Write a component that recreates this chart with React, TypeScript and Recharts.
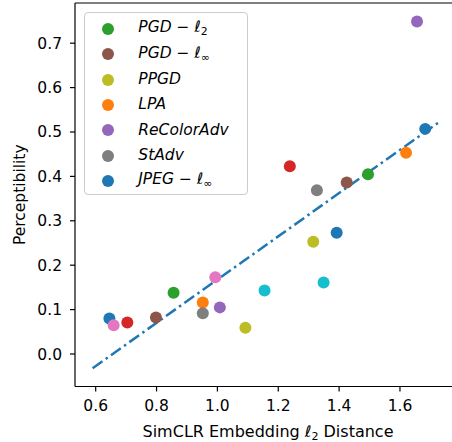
import { ScatterChart, Scatter, XAxis, YAxis, ReferenceLine, Legend } from 'recharts';

const FONT = 'DejaVu Sans';

const xTicks = [0.6, 0.8, 1.0, 1.2, 1.4, 1.6];
const yTicks = [0, 0.1, 0.2, 0.3, 0.4, 0.5, 0.6, 0.7];

// one array per attack / colour
const jpegLinf = [{ x: 0.645, y: 0.08 }, { x: 1.683, y: 0.507 }];
const lpa = [{ x: 0.952, y: 0.116 }, { x: 1.62, y: 0.453 }];
const pgdL2 = [{ x: 0.856, y: 0.138 }, { x: 1.495, y: 0.405 }];
const redPts = [{ x: 0.704, y: 0.071 }, { x: 1.238, y: 0.423 }];
const reColorAdv = [{ x: 1.008, y: 0.105 }, { x: 1.656, y: 0.749 }];
const pgdLinf = [{ x: 0.798, y: 0.082 }, { x: 1.425, y: 0.386 }];
const pinkPts = [{ x: 0.659, y: 0.065 }, { x: 0.993, y: 0.173 }];
const stAdv = [{ x: 0.952, y: 0.092 }, { x: 1.327, y: 0.369 }];
const ppgd = [{ x: 1.092, y: 0.059 }, { x: 1.315, y: 0.253 }];
const cyanPts = [{ x: 1.155, y: 0.143 }, { x: 1.349, y: 0.161 }];
const bluePts = [{ x: 1.392, y: 0.273 }];

const fitLine = [{ x: 0.59, y: -0.032 }, { x: 1.734, y: 0.525 }];

const series = [
  { name: 'jpeg', data: jpegLinf, color: '#1f77b4' },
  { name: 'lpa', data: lpa, color: '#ff7f0e' },
  { name: 'pgd2', data: pgdL2, color: '#2ca02c' },
  { name: 'red', data: redPts, color: '#d62728' },
  { name: 'recolor', data: reColorAdv, color: '#9467bd' },
  { name: 'pgdinf', data: pgdLinf, color: '#8c564b' },
  { name: 'pink', data: pinkPts, color: '#e377c2' },
  { name: 'stadv', data: stAdv, color: '#7f7f7f' },
  { name: 'ppgd', data: ppgd, color: '#bcbd22' },
  { name: 'cyan', data: cyanPts, color: '#17becf' },
  { name: 'blue', data: bluePts, color: '#1f77b4' },
];

const sub = (s: string) => (
  <span style={{ fontStyle: 'normal', fontSize: '70%', verticalAlign: '-0.25em' }}>{s}</span>
);

const legendItems = [
  { color: '#2ca02c', label: <><i>PGD</i><span style={{ fontStyle: 'normal' }}> − </span><i>ℓ</i>{sub('2')}</> },
  { color: '#8c564b', label: <><i>PGD</i><span style={{ fontStyle: 'normal' }}> − </span><i>ℓ</i>{sub('∞')}</> },
  { color: '#bcbd22', label: <i>PPGD</i> },
  { color: '#ff7f0e', label: <i>LPA</i> },
  { color: '#9467bd', label: <i>ReColorAdv</i> },
  { color: '#7f7f7f', label: <i>StAdv</i> },
  { color: '#1f77b4', label: <><i>JPEG</i><span style={{ fontStyle: 'normal' }}> − </span><i>ℓ</i>{sub('∞')}</> },
];

const renderLegend = () => (
  <div
    style={{
      boxSizing: 'border-box',
      width: 164,
      height: 183,
      border: '1px solid #cccccc',
      borderRadius: 4,
      background: 'rgba(255,255,255,0.8)',
      paddingTop: 3.5,
      fontFamily: FONT,
      color: '#000',
    }}
  >
    {legendItems.map((it, i) => (
      <div key={i} style={{ height: 25.3, display: 'flex', alignItems: 'center' }}>
        <svg width={12} height={12} style={{ marginLeft: 17.3, flex: 'none' }}>
          <circle cx={6} cy={6} r={6} fill={it.color} />
        </svg>
        <span style={{ marginLeft: 24, fontSize: 15.5, lineHeight: 1, whiteSpace: 'nowrap' }}>{it.label}</span>
      </div>
    ))}
  </div>
);

const XLabel = (props: any) => {
  const { viewBox } = props;
  return (
    <text
      x={viewBox.x + viewBox.width / 2 + 4.5}
      y={viewBox.y + 50}
      textAnchor="middle"
      fontFamily={FONT}
      fontSize={16}
      fill="#000"
    >
      SimCLR Embedding <tspan fontStyle="italic">ℓ</tspan>
      <tspan fontSize={11} dy={3}>2</tspan>
      <tspan dy={-3}> Distance</tspan>
    </text>
  );
};

const YLabel = (props: any) => {
  const { viewBox } = props;
  const x = 25;
  const y = viewBox.y + viewBox.height / 2;
  return (
    <text
      x={x}
      y={y}
      transform={`rotate(-90, ${x}, ${y})`}
      textAnchor="middle"
      fontFamily={FONT}
      fontSize={15.5}
      fill="#000"
    >
      Perceptibility
    </text>
  );
};

const axisStroke = { stroke: '#000', strokeWidth: 1.2 };
const tickStyle = { fill: '#000', fontSize: 15.5, fontFamily: FONT };

const App = () => {
  return (
    <div style={{ position: 'absolute', left: 0, top: 0, background: '#fff' }}>
      <ScatterChart width={452} height={442} margin={{ top: 3, right: 0, bottom: 0, left: 0 }}>
        <XAxis
          type="number"
          dataKey="x"
          domain={[0.532, 1.771]}
          allowDataOverflow
          ticks={xTicks}
          interval={0}
          tickFormatter={(v: number) => v.toFixed(1)}
          tick={tickStyle}
          tickLine={axisStroke}
          axisLine={axisStroke}
          tickSize={5}
          tickMargin={8}
          height={55.5}
          label={<XLabel />}
        />
        <YAxis
          type="number"
          dataKey="y"
          domain={[-0.0732, 0.7905]}
          allowDataOverflow
          ticks={yTicks}
          interval={0}
          tickFormatter={(v: number) => v.toFixed(1)}
          tick={tickStyle}
          tickLine={axisStroke}
          axisLine={axisStroke}
          tickSize={5}
          tickMargin={8}
          width={75}
          label={<YLabel />}
        />
        <ReferenceLine y={0.7905} stroke="#000" strokeWidth={1.2} />
        <Scatter
          data={fitLine}
          line={{ stroke: '#1f77b4', strokeWidth: 2.5, strokeDasharray: '12 4 2.5 4' }}
          lineType="joint"
          shape={() => <g />}
          isAnimationActive={false}
        />
        {series.map((s) => (
          <Scatter
            key={s.name}
            data={s.data}
            fill={s.color}
            shape={(p: any) => <circle cx={p.cx} cy={p.cy} r={6} fill={s.color} />}
            isAnimationActive={false}
          />
        ))}
        <Legend
          content={renderLegend}
          layout="vertical"
          align="center"
          verticalAlign="middle"
          wrapperStyle={{ left: 84, top: 12, width: 164, height: 183 }}
        />
      </ScatterChart>
    </div>
  );
};

export default App;
